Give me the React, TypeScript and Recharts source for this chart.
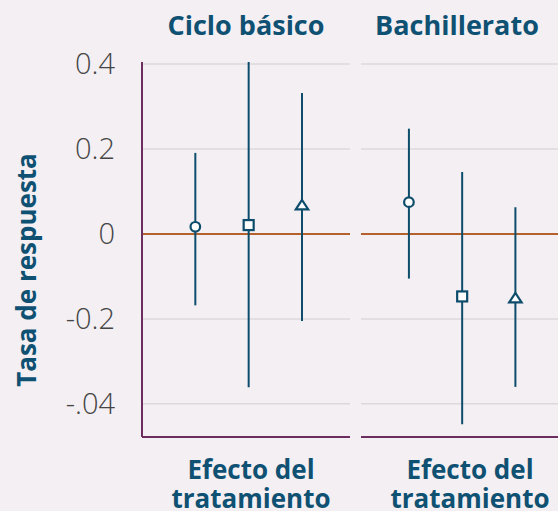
import React from 'react'
import {
  ScatterChart,
  Scatter,
  XAxis,
  YAxis,
  CartesianGrid,
  ReferenceLine,
  ErrorBar,
} from 'recharts'

// Panel titles and marker order
const panelTitles = ['Ciclo básico', 'Bachillerato']
const markerTypes = ['circle', 'square', 'triangle']
const positions = [1, 2, 3]

// Ciclo básico: point estimate with lower / upper bound of the interval
const cicloEst = [0.017, 0.021, 0.069]
const cicloLow = [-0.168, -0.361, -0.205]
const cicloHigh = [0.191, 0.405, 0.332]

// Bachillerato
const bachEst = [0.075, -0.147, -0.15]
const bachLow = [-0.105, -0.448, -0.36]
const bachHigh = [0.248, 0.146, 0.063]

const yTicks = [0.4, 0.2, 0, -0.2, -0.4]
const yTickLabels = ['0.4', '0.2', '0', '-0.2', '-.04']
const yLabel = 'Tasa de respuesta'
const xLabelLines = ['Efecto del', 'tratamiento']

const BG = '#f3eff3'
const BLUE = '#0d4d6b'
const TITLE = '#0f5172'
const PURPLE = '#6b2e5e'
const ORANGE = '#b5612d'
const GRID = '#dcd8dc'
const Y_DOMAIN: [number, number] = [-0.478, 0.405]

function buildRows(est: number[], low: number[], high: number[]) {
  return positions.map((x, i) => ({
    x,
    y: est[i],
    err: [est[i] - low[i], high[i] - est[i]],
    marker: markerTypes[i],
  }))
}

const cicloRows = buildRows(cicloEst, cicloLow, cicloHigh)
const bachRows = buildRows(bachEst, bachLow, bachHigh)

function Marker(props: any) {
  const { cx, cy, payload } = props
  if (cx == null || cy == null) return <g />
  const style = { fill: '#ffffff', stroke: BLUE, strokeWidth: 2.2 }
  if (payload.marker === 'circle') return <circle cx={cx} cy={cy} r={4.8} {...style} />
  if (payload.marker === 'square')
    return <rect x={cx - 5} y={cy - 5} width={10} height={10} {...style} />
  return (
    <polygon
      points={`${cx},${cy - 4.8} ${cx - 6.2},${cy + 4.6} ${cx + 6.2},${cy + 4.6}`}
      {...style}
      strokeLinejoin="miter"
    />
  )
}

function tickLabel(v: number) {
  const i = yTicks.findIndex((t) => Math.abs(t - v) < 1e-9)
  return i >= 0 ? yTickLabels[i] : String(v)
}

interface PanelProps {
  rows: any[]
  width: number
  left: number
  xDomain: [number, number]
  showY: boolean
}

function Panel({ rows, width, left, xDomain, showY }: PanelProps) {
  return (
    <div style={{ position: 'absolute', left, top: 0 }}>
      <ScatterChart
        width={width}
        height={511}
        margin={{ top: 62, right: showY ? 10 : 0, bottom: 72, left: showY ? 0 : 11 }}
      >
        <CartesianGrid
          horizontal
          vertical={false}
          stroke={GRID}
          strokeWidth={1.5}
          horizontalValues={yTicks}
        />
        <XAxis
          type="number"
          dataKey="x"
          domain={xDomain}
          allowDataOverflow
          tick={false}
          tickLine={false}
          height={2}
          axisLine={{ stroke: PURPLE, strokeWidth: 2 }}
        />
        <YAxis
          type="number"
          dataKey="y"
          domain={Y_DOMAIN}
          allowDataOverflow
          ticks={yTicks}
          interval={0}
          hide={!showY}
          width={142}
          tickSize={0}
          tickMargin={27}
          tickLine={false}
          tickFormatter={tickLabel}
          tick={{ fill: '#454545', fontSize: 29, fontFamily: 'Open Sans', fontWeight: 300 }}
          axisLine={{ stroke: PURPLE, strokeWidth: 2 }}
        />
        <ReferenceLine y={0} stroke={ORANGE} strokeWidth={2} />
        <Scatter data={rows} shape={() => <g />} isAnimationActive={false}>
          <ErrorBar
            dataKey="err"
            direction="y"
            width={0}
            stroke={BLUE}
            strokeWidth={2}
            isAnimationActive={false}
          />
        </Scatter>
        <Scatter data={rows} shape={Marker} isAnimationActive={false} />
      </ScatterChart>
    </div>
  )
}

export default function App() {
  const labelFont = { fontFamily: 'Open Sans', fontWeight: 700, fill: TITLE }
  return (
    <div
      style={{
        position: 'fixed',
        left: 0,
        top: 0,
        width: 558,
        height: 511,
        overflow: 'hidden',
        background: BG,
      }}
    >
      <Panel rows={cicloRows} width={360} left={0} xDomain={[0, 3.9]} showY />
      <Panel rows={bachRows} width={208} left={350} xDomain={[0.1, 3.8]} showY={false} />
      <svg
        width={558}
        height={511}
        style={{ position: 'absolute', left: 0, top: 0, pointerEvents: 'none' }}
      >
        <text x={246} y={35} textAnchor="middle" fontSize={27} {...labelFont}>
          {panelTitles[0]}
        </text>
        <text x={457} y={35} textAnchor="middle" fontSize={27} {...labelFont}>
          {panelTitles[1]}
        </text>
        {[251, 470].map((cx) => (
          <text key={cx} x={cx} textAnchor="middle" fontSize={26} {...labelFont}>
            <tspan x={cx} y={479}>{xLabelLines[0]}</tspan>
            <tspan x={cx} y={508}>{xLabelLines[1]}</tspan>
          </text>
        ))}
        <text
          transform="translate(36,270) rotate(-90)"
          textAnchor="middle"
          fontSize={26}
          {...labelFont}
        >
          {yLabel}
        </text>
      </svg>
    </div>
  )
}
